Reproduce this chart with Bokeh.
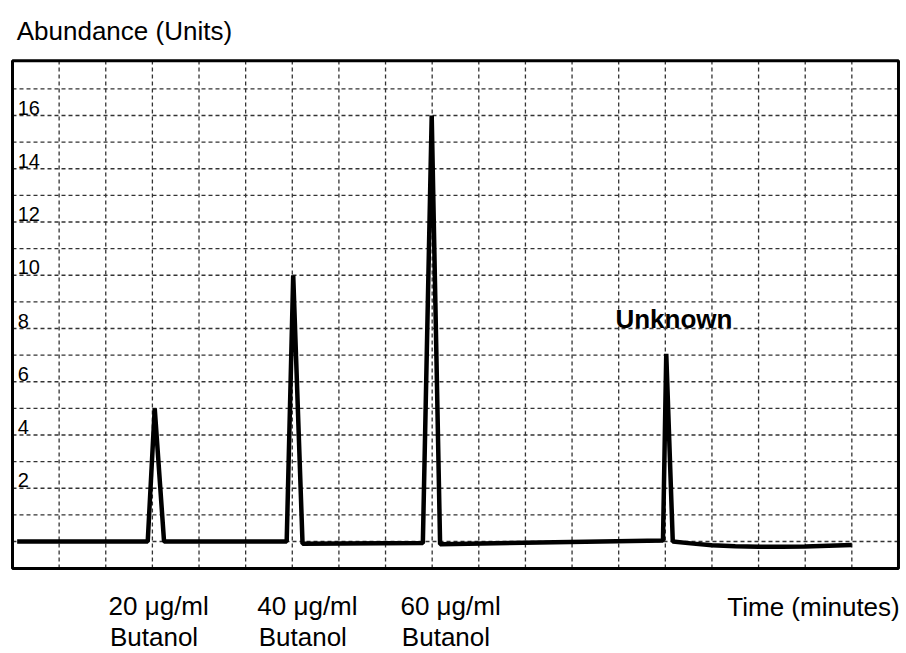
from bokeh.plotting import figure
from bokeh.models import Range1d
from bokeh.core.properties import value
from bokeh.embed import file_html
from bokeh.resources import INLINE

# ---- data ----
time_min = [0.1, 2.9, 3.05, 3.25, 5.88, 6.02, 6.22, 8.8, 8.99, 9.17,
            13.95, 14.02, 14.16, 14.6, 15.0, 15.5, 16.0, 16.5, 17.0, 17.5, 18.0]
abundance = [0.0, 0.0, 5.0, 0.0, 0.0, 10.0, -0.08, -0.06, 16.0, -0.1,
             0.04, 7.05, 0.0, -0.08, -0.14, -0.18, -0.2, -0.2, -0.19, -0.16, -0.13]

ytick_values = [2, 4, 6, 8, 10, 12, 14, 16]
ytick_labels = ["2", "4", "6", "8", "10", "12", "14", "16"]

x_grid_values = list(range(1, 19))
y_grid_values = list(range(0, 18))

peak_line1 = ["20 \u03bcg/ml", "40 \u03bcg/ml", "60 \u03bcg/ml"]
peak_line2 = ["Butanol", "Butanol", "Butanol"]
peak_label_x = [2.06, 5.25, 8.32]

X_MIN, X_MAX = 0.0, 19.0
Y_MIN, Y_MAX = -1.01, 18.06

FONT = "Liberation Sans"

W, H = 906, 653
PX_X = 46.63   # pixels per minute
PX_Y = 26.625  # pixels per unit
X0_PX, Y0_PX = 12.0, 541.0

p = figure(width=W, height=H, output_backend="svg", toolbar_location=None,
           x_axis_location=None, y_axis_location=None,
           x_range=Range1d(-X0_PX / PX_X, (W - X0_PX) / PX_X),
           y_range=Range1d(-(H - Y0_PX) / PX_Y, Y0_PX / PX_Y),
           min_border=0)
p.grid.visible = False
p.background_fill_color = "white"
p.border_fill_color = "white"
p.outline_line_color = None

# dashed grid
p.segment(x0=x_grid_values, x1=x_grid_values,
          y0=[Y_MIN] * len(x_grid_values), y1=[Y_MAX] * len(x_grid_values),
          line_color="#333333", line_width=1.3, line_dash="4 3")
p.segment(x0=[X_MIN] * len(y_grid_values), x1=[X_MAX] * len(y_grid_values),
          y0=y_grid_values, y1=y_grid_values,
          line_color="#333333", line_width=1.3, line_dash="4 3")

# frame box
p.quad(left=[X_MIN], right=[X_MAX], bottom=[Y_MIN], top=[Y_MAX],
       fill_color=None, line_color="black", line_width=3)

# trace
p.line(time_min, abundance, line_color="black", line_width=4.5, line_join="bevel")

# y tick labels inside the frame
p.text(x=[0.11] * len(ytick_values), y=ytick_values, text=ytick_labels,
       text_font=value(FONT), text_font_size="20px", text_color="black",
       text_align="left", text_baseline="alphabetic", y_offset=-8)

common = dict(text_font=value(FONT), text_font_size="26px", text_color="black",
              text_align="left", text_baseline="alphabetic")

p.text(x=[0.09], y=[18.78], text=["Abundance (Units)"], y_offset=-10, **common)
p.text(x=[15.33], y=[-2.83], text=["Time (minutes)"], y_offset=-10, **common)
p.text(x=[12.93], y=[8.0], text=["Unknown"], text_font_style="bold", y_offset=-10, **common)
p.text(x=peak_label_x, y=[-2.85] * 3, text=peak_line1, y_offset=-11, **common)
p.text(x=[v + 0.03 for v in peak_label_x], y=[-4.13] * 3, text=peak_line2,
       y_offset=-14, **common)

open("out.html", "w").write(file_html(p, INLINE))
